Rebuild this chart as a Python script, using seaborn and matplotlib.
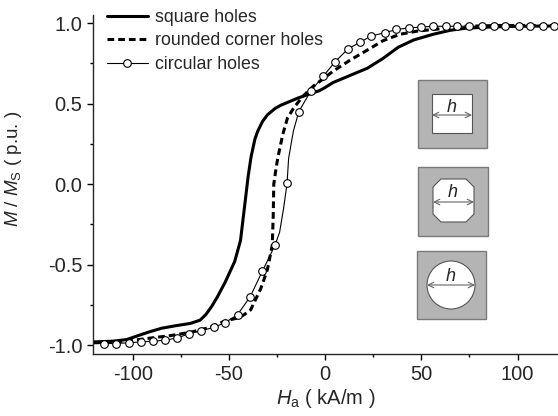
import matplotlib
matplotlib.use("Agg")
import matplotlib.pyplot as plt
from matplotlib.lines import Line2D
from matplotlib.patches import Rectangle, Polygon, Circle
import pandas as pd
import seaborn as sns

# ---------------------------------------------
# DATA
# ---------------------------------------------

# square holes (thick solid)
square_h = [-120, -110, -103, -97, -92, -85, -78, -70, -65, -62, -59, -56, -52, -47, -44,
            -42.5, -41, -40, -38.5, -36.5, -35, -32.5, -30, -26, -23, -18, -14, -8, -3,
            0, 4, 10, 16, 22, 30, 38, 46, 56, 65, 73, 85, 100, 121]
square_m = [-0.98, -0.975, -0.965, -0.94, -0.92, -0.895, -0.88, -0.865, -0.845, -0.81,
            -0.76, -0.70, -0.61, -0.48, -0.35, -0.20, -0.05, 0.05, 0.17, 0.28, 0.33, 0.39,
            0.43, 0.47, 0.49, 0.515, 0.535, 0.56, 0.58, 0.60, 0.63, 0.66, 0.69, 0.72,
            0.78, 0.85, 0.895, 0.93, 0.955, 0.968, 0.975, 0.98, 0.982]

# rounded corner holes (thick dashed)
rounded_h = [-120, -110, -100, -90, -80, -70, -60, -52, -45, -42, -38.7, -35.5, -33.5,
             -30, -27.5, -27, -26.7, -25.5, -24.5, -22, -19.6, -16.5, -12, -6, -2.5,
             4, 13, 21.6, 30, 38.7, 48, 56, 73, 90, 121]
rounded_m = [-0.985, -0.98, -0.97, -0.955, -0.94, -0.92, -0.89, -0.85, -0.83, -0.81,
             -0.78, -0.70, -0.65, -0.53, -0.38, -0.20, 0.0, 0.10, 0.17, 0.31, 0.41,
             0.47, 0.54, 0.61, 0.64, 0.70, 0.77, 0.83, 0.89, 0.93, 0.95, 0.96, 0.98,
             0.985, 0.985]

# circular holes (thin line with open circles)
circ_h = [-115, -108.6, -102, -95.9, -89.7, -83.3, -76.9, -70.8, -64.4, -58, -51.9,
          -45.5, -39, -32.6, -26.1, -19.8, -13.7, -7.4, -1, 5.2, 11.9, 18, 24, 31, 37,
          43.8, 49.8, 56, 62.7, 68.6, 75, 81.3, 87.6, 93.6, 100.5, 106.5, 113.4, 119]
circ_m = [-0.99, -0.99, -0.985, -0.98, -0.975, -0.97, -0.955, -0.93, -0.91, -0.89,
          -0.86, -0.81, -0.70, -0.54, -0.38, 0.005, 0.45, 0.58, 0.67, 0.76, 0.84, 0.88,
          0.92, 0.94, 0.96, 0.97, 0.975, 0.98, 0.98, 0.98, 0.98, 0.98, 0.98, 0.98,
          0.98, 0.98, 0.98, 0.98]
# extra points of the thin line between the markers
circ_line_h = [-121, -23.7, -21.6, -19.0, -16.5, 121]
circ_line_m = [-0.99, -0.30, -0.15, 0.16, 0.33, 0.98]

labels = ["square holes", "rounded corner holes", "circular holes"]

# ---------------------------------------------
# STYLE
# ---------------------------------------------
sns.set_style("ticks")
plt.rcParams["font.family"] = ["Liberation Sans", "DejaVu Sans"]
plt.rcParams["mathtext.fontset"] = "custom"
plt.rcParams["mathtext.rm"] = "Liberation Sans"
plt.rcParams["mathtext.it"] = "Liberation Sans:italic"
plt.rcParams["axes.linewidth"] = 1.0

fig = plt.figure(figsize=(5.58, 4.16), dpi=100)
ax = fig.add_axes([93.3 / 558, 62 / 416, 464.7 / 558, 339 / 416])

sq = pd.DataFrame({"H": square_h, "M": square_m})
rd = pd.DataFrame({"H": rounded_h, "M": rounded_m})
cm = pd.DataFrame({"H": circ_h, "M": circ_m})
cl = pd.concat([cm, pd.DataFrame({"H": circ_line_h, "M": circ_line_m})]).sort_values("H")

sns.lineplot(data=sq, x="H", y="M", ax=ax, color="black", lw=2.2,
             estimator=None, sort=False, legend=False)
sns.lineplot(data=rd, x="H", y="M", ax=ax, color="black", lw=2.2,
             linestyle=(0, (2.2, 1.3)), estimator=None, sort=False, legend=False)
sns.lineplot(data=cl, x="H", y="M", ax=ax, color="black", lw=0.8,
             estimator=None, sort=False, legend=False)
sns.scatterplot(data=cm, x="H", y="M", ax=ax, s=30, color="white",
                edgecolor="black", linewidth=0.8, zorder=3, legend=False)

ax.set_xlim(-120.5, 121)
ax.set_ylim(-1.055, 1.05)
ax.set_xticks([-100, -50, 0, 50, 100])
ax.set_xticks([-75, -25, 25, 75], minor=True)
ax.set_yticks([-1.0, -0.5, 0.0, 0.5, 1.0])
ax.set_yticks([-0.75, -0.25, 0.25, 0.75], minor=True)
ax.set_yticklabels(["-1.0", "-0.5", "0.0", "0.5", "1.0"])
ax.set_xticklabels(["-100", "-50", "0", "50", "100"])
ax.tick_params(which="major", length=4, width=1.0, labelsize=14.5, pad=4, color="black")
ax.tick_params(which="minor", length=2.5, width=1.0, color="black")
sns.despine(ax=ax)

ax.set_xlabel(r"$H_{\mathrm{a}}$ ( kA/m )", fontsize=14.5, labelpad=2)
ax.set_ylabel(r"$M$ / $M_{\mathrm{S}}$ ( p.u. )", fontsize=13.5)
ax.yaxis.set_label_coords(-0.150, 0.545)

handles = [
    Line2D([], [], color="black", lw=2.2),
    Line2D([], [], color="black", lw=2.2, linestyle=(0, (2.2, 1.3))),
    Line2D([], [], color="black", lw=0.8, marker="o", ms=5.5, mfc="white",
           mec="black", mew=0.8),
]
ax.legend(handles, labels, loc="upper left", frameon=False, fontsize=12.8,
          bbox_to_anchor=(107 / 558, 1 - 9 / 416), bbox_transform=fig.transFigure,
          borderpad=0, borderaxespad=0, handlelength=2.3, handletextpad=0.4,
          labelspacing=0.36)

# ---------------------------------------------
# HOLE SKETCHES (pixel coordinates of the figure)
# ---------------------------------------------
ins = fig.add_axes([405 / 558, (416 - 330) / 416, 95 / 558, 260 / 416])
ins.set_xlim(405, 500)
ins.set_ylim(330, 70)
ins.axis("off")

gray = "#b4b4b4"
edge = "#7a7a7a"
arrow = dict(arrowstyle="<->", lw=0.8, color="#666666", shrinkA=0, shrinkB=0)

# square hole
ins.add_patch(Rectangle((418, 80), 69, 68, fc=gray, ec=edge, lw=1))
ins.add_patch(Rectangle((432, 94), 40, 39, fc="white", ec="#555555", lw=0.8))
ins.annotate("", xy=(472, 115), xytext=(432, 115), arrowprops=arrow)
ins.text(452, 108, "h", style="italic", fontsize=13, ha="center", va="center")

# rounded corner hole (octagon)
ins.add_patch(Rectangle((418, 167), 70, 69, fc=gray, ec=edge, lw=1))
c = 8
x0, x1, y0, y1 = 433, 474, 179, 222
octo = [(x0 + c, y0), (x1 - c, y0), (x1, y0 + c), (x1, y1 - c), (x1 - c, y1),
        (x0 + c, y1), (x0, y1 - c), (x0, y0 + c)]
ins.add_patch(Polygon(octo, closed=True, fc="white", ec="#555555", lw=0.8))
ins.annotate("", xy=(474, 202), xytext=(433, 202), arrowprops=arrow)
ins.text(453, 193, "h", style="italic", fontsize=13, ha="center", va="center")

# circular hole
ins.add_patch(Rectangle((417, 251), 69, 68, fc=gray, ec=edge, lw=1))
ins.add_patch(Circle((451, 285), 24, fc="white", ec="#555555", lw=0.8))
ins.annotate("", xy=(475, 285), xytext=(427, 285), arrowprops=arrow)
ins.text(451, 277, "h", style="italic", fontsize=13, ha="center", va="center")

fig.savefig("out.png", dpi=100)
